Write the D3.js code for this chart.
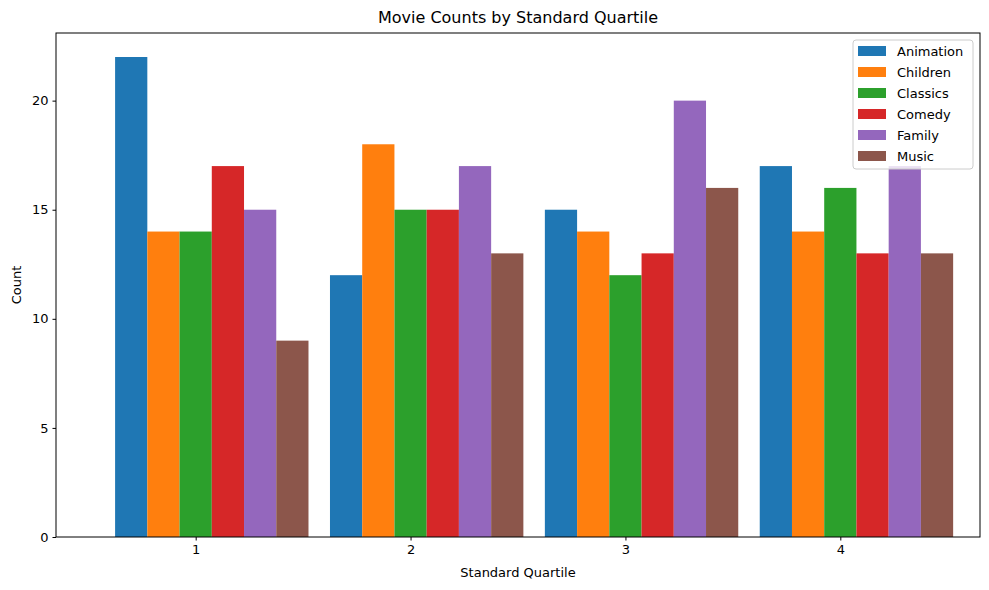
<!DOCTYPE html>
<html><head><meta charset="utf-8">
<script src="https://cdn.jsdelivr.net/npm/d3@7"></script>
<style>body{margin:0;background:#fff}text{font-family:"DejaVu Sans",sans-serif}</style>
</head><body><svg id="c" width="989" height="590"></svg>
<script>
const quartiles = [1, 2, 3, 4];
const categories = ["Animation", "Children", "Classics", "Comedy", "Family", "Music"];
const colors = ["#1f77b4", "#ff7f0e", "#2ca02c", "#d62728", "#9467bd", "#8c564b"];
const animation = [22, 12, 15, 17];
const children = [14, 18, 14, 14];
const classics = [14, 15, 12, 16];
const comedy = [17, 15, 13, 13];
const family = [15, 17, 20, 17];
const music = [9, 13, 16, 13];
const series = [animation, children, classics, comedy, family, music];
const yTicks = [0, 5, 10, 15, 20];

const svg = d3.select("#c");
const L = 56, R = 980, T = 33, B = 537;
const x = d3.scaleLinear().domain([0.35, 4.65]).range([L, R]);
const y = d3.scaleLinear().domain([0, 23.1]).range([B, T]);
const w = 0.15;

series.forEach((s, i) => {
  svg.append("g").selectAll("rect").data(s).join("rect")
    .attr("x", (d, j) => x(quartiles[j] - 0.375 + i * w))
    .attr("width", x(w) - x(0))
    .attr("y", d => y(d)).attr("height", d => y(0) - y(d))
    .attr("fill", colors[i]);
});

const xa = svg.append("g").attr("transform", `translate(0,${B})`)
  .call(d3.axisBottom(x).tickValues(quartiles).tickFormat(d3.format("d")).tickSize(3.5).tickPadding(4));
const ya = svg.append("g").attr("transform", `translate(${L},0)`)
  .call(d3.axisLeft(y).tickValues(yTicks).tickSize(3.5).tickPadding(4));
[xa, ya].forEach(a => { a.selectAll("text").attr("font-size", 13).attr("fill", "#000"); a.select(".domain").remove(); });
svg.append("rect").attr("x", L).attr("y", T).attr("width", R - L).attr("height", B - T)
  .attr("fill", "none").attr("stroke", "#000").attr("stroke-width", 1);

svg.append("text").attr("x", (L + R) / 2).attr("y", 23).attr("text-anchor", "middle").attr("font-size", 16).text("Movie Counts by Standard Quartile");
svg.append("text").attr("x", (L + R) / 2).attr("y", 577).attr("text-anchor", "middle").attr("font-size", 13).text("Standard Quartile");
svg.append("text").attr("transform", `translate(21,${(T + B) / 2}) rotate(-90)`).attr("text-anchor", "middle").attr("font-size", 13).text("Count");

const lg = svg.append("g");
lg.append("rect").attr("x", 853).attr("y", 40).attr("width", 120).attr("height", 129).attr("rx", 3)
  .attr("fill", "#fff").attr("fill-opacity", 0.8).attr("stroke", "#ccc");
categories.forEach((c, i) => {
  const yy = 51 + i * 21;
  lg.append("rect").attr("x", 858).attr("y", yy - 5).attr("width", 28).attr("height", 10).attr("fill", colors[i]);
  lg.append("text").attr("x", 897).attr("y", yy + 5).attr("font-size", 13).text(c);
});
</script></body></html>
